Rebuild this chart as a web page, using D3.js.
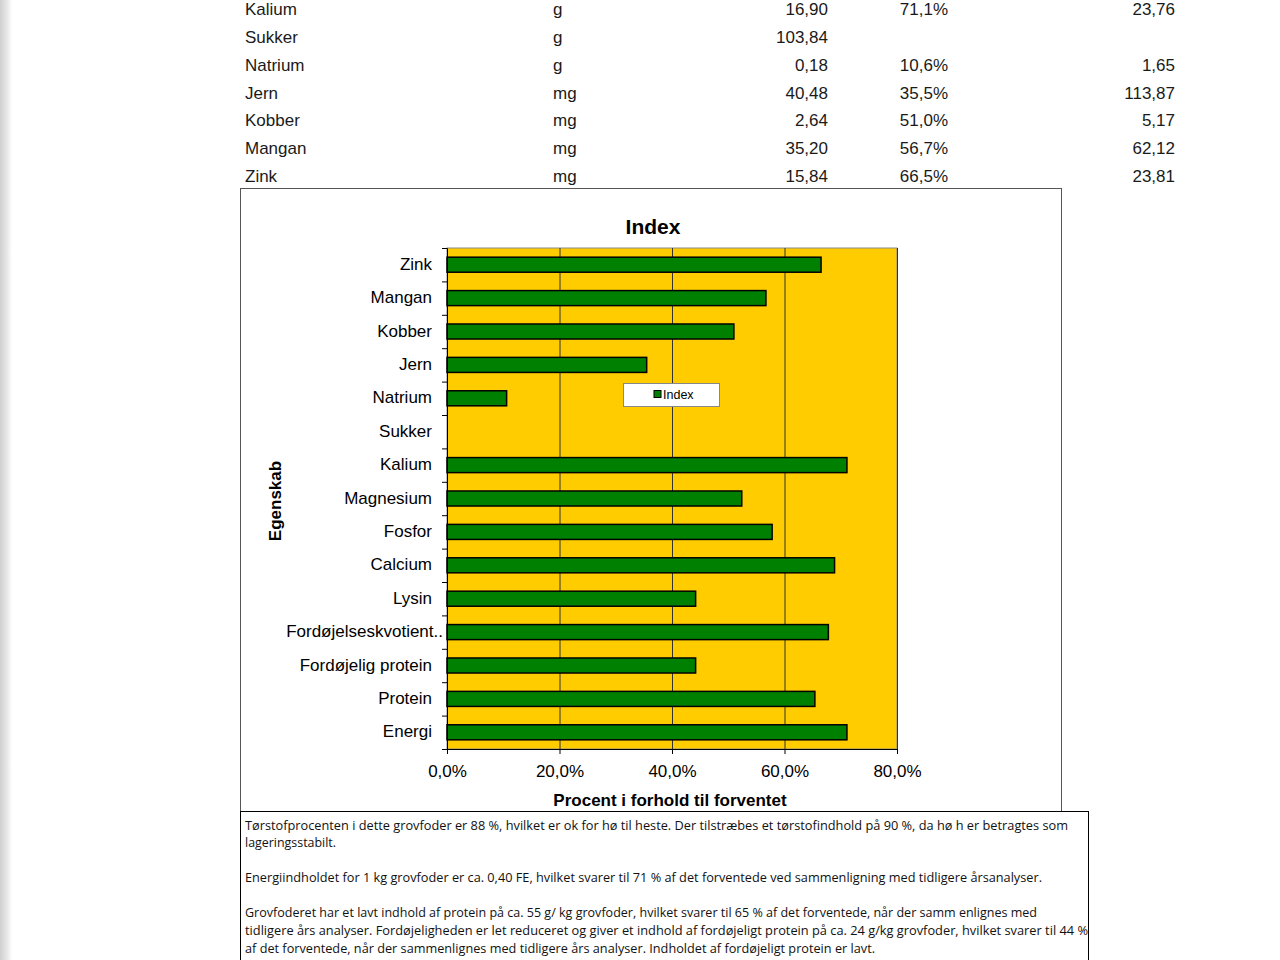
<!DOCTYPE html>
<html><head><meta charset="utf-8">
<script src="https://cdn.jsdelivr.net/npm/d3@7"></script>
<style>html,body{margin:0;padding:0;background:#fff;}svg{display:block;}</style>
</head><body>
<svg id="c" width="1280" height="960"></svg>
<script>
// ---- top table ----
const tableNames = ["Kalium","Sukker","Natrium","Jern","Kobber","Mangan","Zink"];
const tableUnits = ["g","g","g","mg","mg","mg","mg"];
const tableValues = ["16,90","103,84","0,18","40,48","2,64","35,20","15,84"];
const tablePct = ["71,1%","","10,6%","35,5%","51,0%","56,7%","66,5%"];
const tableRef = ["23,76","","1,65","113,87","5,17","62,12","23,81"];

// ---- chart ----
const categories = ["Energi","Protein","Fordøjelig protein","Fordøjelseskvotient..","Lysin","Calcium","Fosfor","Magnesium","Kalium","Sukker","Natrium","Jern","Kobber","Mangan","Zink"];
const indexValues = [0.711,0.654,0.442,0.678,0.442,0.689,0.578,0.524,0.711,null,0.106,0.355,0.510,0.567,0.665];
const xTicks = [0,0.2,0.4,0.6,0.8];
const chartTitle = "Index";
const xTitle = "Procent i forhold til forventet";
const yTitle = "Egenskab";
const legendLabel = "Index";

const textLines = [
 "Tørstofprocenten i dette grovfoder er 88 %, hvilket er ok for hø til heste. Der tilstræbes et tørstofindhold på 90 %, da hø h er betragtes som",
 "lageringsstabilt.",
 "",
 "Energiindholdet  for 1 kg grovfoder er ca. 0,40 FE, hvilket svarer til 71 % af det forventede ved sammenligning med tidligere  årsanalyser.",
 "",
 "Grovfoderet har et lavt indhold af protein på ca. 55 g/ kg grovfoder, hvilket svarer til 65 % af det forventede, når der samm enlignes med",
 "tidligere års analyser. Fordøjeligheden er let reduceret og giver et indhold af fordøjeligt protein på ca. 24 g/kg grovfoder,  hvilket svarer til 44 %",
 "af det forventede, når der sammenlignes med tidligere års analyser. Indholdet af fordøjeligt protein er lavt."
];
const textLineWidths = [823,91,0,797,0,792,843,630];

const svg = d3.select("#c");
const font = "'Liberation Sans', Arial, sans-serif";

// left shadow strip
const defs = svg.append("defs");
const g1 = defs.append("linearGradient").attr("id","sh").attr("x1","0").attr("x2","1");
g1.append("stop").attr("offset","0").attr("stop-color","#cfcfcf");
g1.append("stop").attr("offset","0.6").attr("stop-color","#e8e8e8");
g1.append("stop").attr("offset","1").attr("stop-color","#ffffff");
svg.append("rect").attr("x",0).attr("y",0).attr("width",12).attr("height",960).attr("fill","url(#sh)");

// table
const rowY = d3.scalePoint().domain(d3.range(tableNames.length)).range([9,176]);
const tg = svg.append("g").attr("font-family",font).attr("font-size",17).attr("fill","#1a1a1a");
tableNames.forEach((n,i)=>{
  const y = rowY(i)+6;
  tg.append("text").attr("x",245).attr("y",y).text(n);
  tg.append("text").attr("x",553).attr("y",y).text(tableUnits[i]);
  tg.append("text").attr("x",828).attr("y",y).attr("text-anchor","end").text(tableValues[i]);
  tg.append("text").attr("x",948).attr("y",y).attr("text-anchor","end").text(tablePct[i]);
  tg.append("text").attr("x",1175).attr("y",y).attr("text-anchor","end").text(tableRef[i]);
});

// chart frame
svg.append("rect").attr("x",240.5).attr("y",188.5).attr("width",821).attr("height",623)
  .attr("fill","#fff").attr("stroke","#555").attr("stroke-width",1);

const x = d3.scaleLinear().domain([0,0.8]).range([447,897]);
const y = d3.scaleBand().domain(categories).range([749,248]).paddingInner(0.55).paddingOuter(0.275);

// plot area
svg.append("rect").attr("x",x(0)).attr("y",248).attr("width",x(0.8)-x(0)).attr("height",501)
  .attr("fill","#FFCC00").attr("stroke","#8a8a8a");
// gridlines
svg.append("g").selectAll("line").data(xTicks.slice(1)).join("line")
  .attr("x1",d=>x(d)+0.5).attr("x2",d=>x(d)+0.5).attr("y1",248).attr("y2",749)
  .attr("stroke","#333").attr("stroke-width",1);

// bars
svg.append("g").selectAll("rect").data(categories.map((c,i)=>({c,v:indexValues[i]})).filter(d=>d.v!=null)).join("rect")
  .attr("x",x(0)).attr("y",d=>y(d.c)).attr("width",d=>x(d.v)-x(0)).attr("height",y.bandwidth())
  .attr("fill","#008000").attr("stroke","#000").attr("stroke-width",1.5);

// x axis
const fmt = d => d3.format(".1%")(d).replace(".",",");
const xa = svg.append("g").attr("transform","translate(0,749)")
  .call(d3.axisBottom(x).tickValues(xTicks).tickFormat(fmt).tickSize(5).tickPadding(11));
xa.selectAll("text").attr("font-family",font).attr("font-size",17).attr("fill","#000");
xa.selectAll("line,path").attr("stroke","#000");

// y axis (ticks at band boundaries)
const yi = d3.scaleLinear().domain([0,categories.length]).range([749,248]);
const ya = svg.append("g").attr("transform","translate(447,0)")
  .call(d3.axisLeft(yi).tickValues(d3.range(categories.length+1)).tickFormat("").tickSize(5));
ya.selectAll("line,path").attr("stroke","#000");

// category labels
svg.append("g").selectAll("text").data(categories).join("text")
  .attr("x",d=>d.endsWith("..")?443:432).attr("y",d=>y(d)+y.bandwidth()/2+5)
  .attr("text-anchor","end").attr("font-family",font).attr("font-size",17).attr("fill","#000").text(d=>d);

// titles
svg.append("text").attr("x",653).attr("y",234).attr("text-anchor","middle").attr("font-family",font)
  .attr("font-size",21).attr("font-weight","bold").text(chartTitle);
svg.append("text").attr("x",670).attr("y",806).attr("text-anchor","middle").attr("font-family",font)
  .attr("font-size",17).attr("font-weight","bold").text(xTitle);
svg.append("text").attr("transform","translate(281,501) rotate(-90)").attr("text-anchor","middle").attr("font-family",font)
  .attr("font-size",17).attr("font-weight","bold").text(yTitle);

// legend
svg.append("rect").attr("x",623.5).attr("y",383.5).attr("width",96).attr("height",23).attr("fill","#fff").attr("stroke","#888");
svg.append("rect").attr("x",654).attr("y",390.5).attr("width",7).attr("height",7).attr("fill","#008000").attr("stroke","#000");
svg.append("text").attr("x",663).attr("y",399).attr("font-family",font).attr("font-size",12.5).attr("fill","#000").text(legendLabel);

// bottom text box
svg.append("rect").attr("x",240.5).attr("y",811.5).attr("width",848).attr("height",160).attr("fill","#fff").attr("stroke","#000");
const lineY = [830,847,0,882,0,917,935,953];
const tb = svg.append("g").attr("font-family","'Liberation Sans Narrow','Open Sans',Arial,sans-serif").attr("font-size",12.5).attr("fill","#111");
textLines.forEach((t,i)=>{
  if(!t) return;
  tb.append("text").attr("x",245).attr("y",lineY[i]).attr("textLength",textLineWidths[i]).attr("lengthAdjust","spacingAndGlyphs").text(t);
});
</script>
</body></html>
